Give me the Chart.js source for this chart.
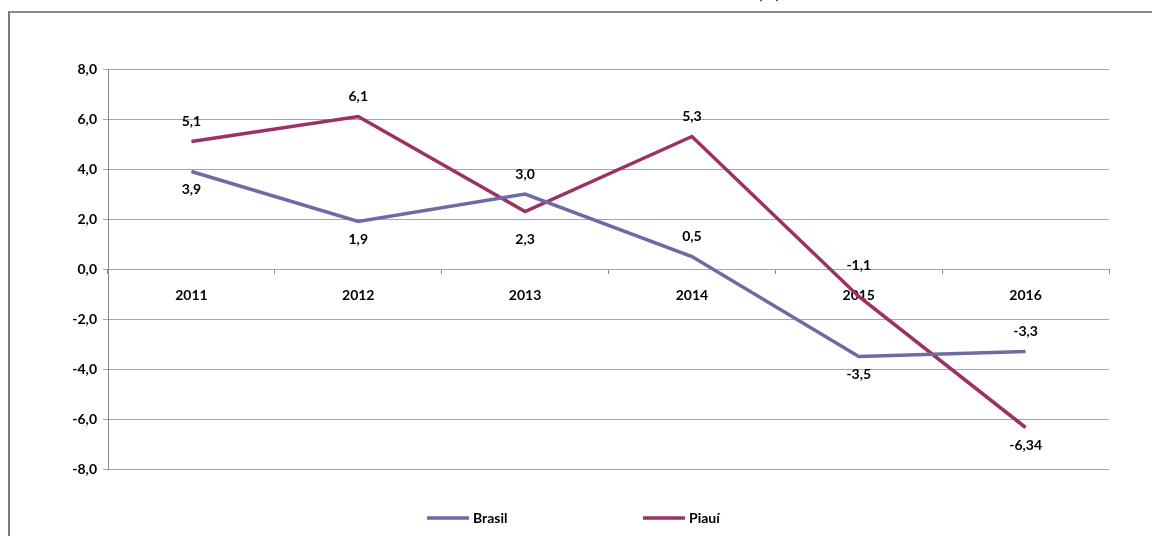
<!DOCTYPE html>
<html>
<head>
<meta charset="utf-8">
<script src="https://cdn.jsdelivr.net/npm/chart.js@4.4.0/dist/chart.umd.min.js"></script>
<style>
  html, body { margin: 0; padding: 0; background: #fff; }
  #wrap { position: relative; width: 1152px; height: 536px; }
  #frame { position: absolute; left: 8px; top: 11px; right: 0; bottom: 0;
           border-top: 2px solid #8a8a8a; border-left: 2px solid #7a7a7a; }
  canvas { position: absolute; left: 0; top: 0; }
</style>
</head>
<body>
<div id="wrap">
  <div id="frame"></div>
  <canvas id="line-chart" width="1152" height="536"></canvas>
</div>
<script>
const years = ["2011", "2012", "2013", "2014", "2015", "2016"];
const brasil = [3.9, 1.9, 3.0, 0.5, -3.5, -3.3];
const piaui = [5.1, 6.1, 2.3, 5.3, -1.1, -6.34];
const brasilLabels = ["3,9", "1,9", "3,0", "0,5", "-3,5", "-3,3"];
const piauiLabels = ["5,1", "6,1", "2,3", "5,3", "-1,1", "-6,34"];
const yTicks = [-8, -6, -4, -2, 0, 2, 4, 6, 8];

// where each value label sits relative to its point
const brasilSide = ["below", "below", "above", "above", "below", "above"];
const piauiSide = ["above", "above", "low", "above", "high", "below"];
const sideOffset = { above: -20, below: 18, high: -31, low: 28 };

const fontFamily = "Lato, 'Open Sans', sans-serif";
const boldFont = "bold 14px " + fontFamily;

const valueLabels = {
    id: 'valueLabels',
    afterDatasetsDraw(chart) {
        const ctx = chart.ctx;
        ctx.save();
        ctx.font = boldFont;
        ctx.fillStyle = "#000";
        ctx.textAlign = "center";
        ctx.textBaseline = "middle";
        chart.data.datasets.forEach((ds, i) => {
            const meta = chart.getDatasetMeta(i);
            meta.data.forEach((pt, j) => {
                ctx.fillText(ds.valueText[j], pt.x, pt.y + sideOffset[ds.sides[j]]);
            });
        });
        ctx.restore();
    }
};

// legend drawn by hand so the wide gap between items doesn't eat layout space
const bottomLegend = {
    id: 'bottomLegend',
    afterDraw(chart) {
        const ctx = chart.ctx;
        ctx.save();
        ctx.font = boldFont;
        ctx.textBaseline = "middle";
        ctx.textAlign = "left";
        const y = 518;
        let x = 427;
        chart.data.datasets.forEach((ds) => {
            ctx.strokeStyle = ds.borderColor;
            ctx.lineWidth = 3.5;
            ctx.beginPath();
            ctx.moveTo(x, y);
            ctx.lineTo(x + 42, y);
            ctx.stroke();
            ctx.fillStyle = "#000";
            ctx.fillText(ds.label, x + 46, y);
            x += 216;
        });
        ctx.restore();
    }
};

const clippedTitle = {
    id: 'clippedTitle',
    afterDraw(chart) {
        const ctx = chart.ctx;
        ctx.save();
        ctx.font = "bold 16px " + fontFamily;
        ctx.fillStyle = "#444";
        ctx.textAlign = "right";
        ctx.textBaseline = "alphabetic";
        ctx.fillText("(%)", 780, -1);
        ctx.restore();
    }
};

new Chart(document.getElementById("line-chart"), {
    type: 'line',
    data: {
        labels: years,
        datasets: [{
            label: "Brasil",
            data: brasil,
            valueText: brasilLabels,
            sides: brasilSide,
            borderColor: "#6b6ba5",
            backgroundColor: "#6b6ba5",
            borderWidth: 3.5,
            pointRadius: 0,
            tension: 0
        }, {
            label: "Piauí",
            data: piaui,
            valueText: piauiLabels,
            sides: piauiSide,
            borderColor: "#9c3263",
            backgroundColor: "#9c3263",
            borderWidth: 3.5,
            pointRadius: 0,
            tension: 0
        }]
    },
    options: {
        responsive: false,
        animation: false,
        layout: { padding: { left: 0, right: 43, top: 69, bottom: 67 } },
        plugins: {
            legend: { display: false },
            tooltip: { enabled: false }
        },
        scales: {
            x: {
                position: { y: 0 },
                offset: true,
                afterFit(scale) { scale.height = 0; },
                border: { display: false },
                grid: {
                    offset: true,
                    drawOnChartArea: false,
                    drawTicks: true,
                    tickLength: 5,
                    color: "#888"
                },
                ticks: {
                    color: "#000",
                    padding: 13,
                    font: { family: fontFamily, size: 14, weight: 'bold' }
                }
            },
            y: {
                min: -8,
                max: 8,
                afterFit(scale) { scale.width = 108; },
                afterBuildTicks(scale) { scale.ticks = yTicks.map(v => ({ value: v })); },
                border: { display: true, color: "#888", width: 1 },
                grid: { color: "#a6a6a6", tickLength: 5 },
                ticks: {
                    color: "#000",
                    padding: 6,
                    font: { family: fontFamily, size: 14, weight: 'bold' },
                    callback: (v) => v.toFixed(1).replace(".", ",")
                }
            }
        }
    },
    plugins: [valueLabels, bottomLegend, clippedTitle]
});
</script>
</body>
</html>
